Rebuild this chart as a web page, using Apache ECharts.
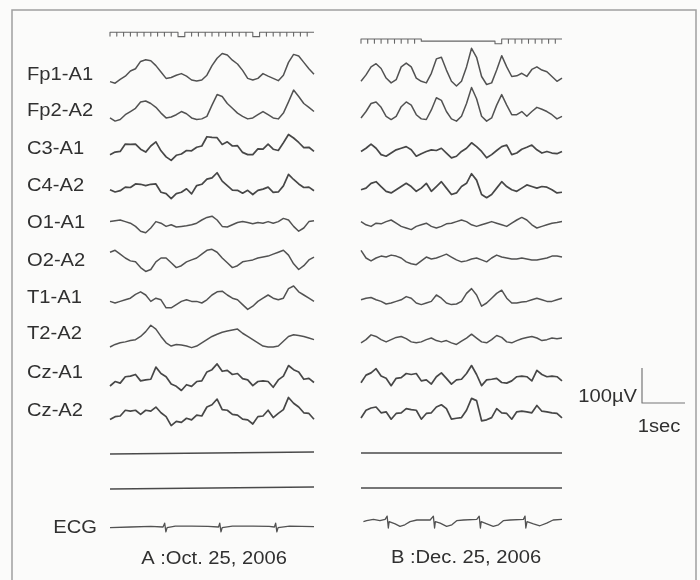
<!DOCTYPE html>
<html><head><meta charset="utf-8">
<script src="https://cdn.jsdelivr.net/npm/echarts/dist/echarts.min.js"></script>
<style>html,body{margin:0;padding:0;background:#fbfbfa;}#c{width:700px;height:580px;}</style>
</head><body><div id="c"></div><script>
// ---------------- DATA ----------------
const channels = ['Fp1-A1','Fp2-A2','C3-A1','C4-A2','O1-A1','O2-A2','T1-A1','T2-A2','Cz-A1','Cz-A2'];
const captionA = 'A :Oct. 25, 2006';
const captionB = 'B :Dec. 25, 2006';
const ecgLabel = 'ECG';
const scaleVoltLabel = '100\u00b5V';
const scaleTimeLabel = '1sec';
const epochSec = 5;          // each panel shows 5 s
const scaleBarSec = 1;
const scaleBarMicroV = 100;

// Panel A (Oct. 25, 2006) – 41 samples over 5 s, µV (up positive)
const fp1A = [-30,-35,-23,-13,3,10,33,38,35,20,0,-20,-17,-10,-5,-13,-25,-28,-25,-10,20,43,58,53,37,25,5,-20,-25,-20,-5,-13,-20,-27,-10,30,55,50,30,10,-7];
const fp2A = [-31,-41,-36,-21,-11,-1,19,22,14,2,-16,-31,-28,-21,-11,-18,-31,-36,-34,-26,9,42,36,14,-1,-16,-26,-34,-31,-21,-11,-21,-31,-34,-16,19,56,36,14,2,-11];
const c3A  = [-27,-19,-17,6,5,6,-10,-19,0,13,-15,-34,-45,-29,-25,-14,-15,-4,0,29,27,26,5,13,0,1,-20,-27,-27,-9,-10,6,-10,-14,10,36,25,11,-5,-4,-17];
const c4A  = [-21,-28,-24,-13,-14,-3,-4,-8,-4,-3,-29,-33,-49,-33,-29,-18,-34,-8,-4,12,16,32,6,-8,-22,-23,-32,-23,-36,-23,-19,-13,-29,-28,-9,27,11,-3,-14,-13,-24];
const o1A  = [-5,-2,0,-5,-10,-20,-35,-40,-25,-5,-10,-20,-15,-22,-20,-18,-15,-10,0,8,12,0,-20,-22,-15,-8,-5,-8,-12,-8,-10,-5,-10,-5,5,0,-20,-35,-25,-5,-2];
const o2A  = [18,24,12,0,-9,-12,-30,-42,-36,-12,0,0,-15,-30,-24,-12,-6,0,12,24,27,18,0,-15,-30,-24,-12,-9,-6,0,3,6,12,18,24,9,-18,-36,-24,-6,3];
const t1A  = [-20,-25,-20,-15,-10,2,10,0,-20,-10,-15,-40,-40,-30,-20,-15,-20,-20,-25,-15,0,10,12,0,-10,-15,-30,-45,-35,-20,-10,0,-10,-15,-10,20,28,10,0,-10,-20];
const t2A  = [-50,-42,-37,-34,-30,-27,-17,-2,18,6,-17,-37,-47,-42,-44,-47,-52,-47,-37,-27,-17,-10,-4,0,3,6,-7,-17,-27,-37,-47,-50,-50,-47,-32,-17,-12,-14,-17,-22,-27];
const cz1A = [-50,-36,-41,-21,-19,-14,-34,-31,-29,9,-11,-21,-44,-51,-64,-46,-51,-36,-34,-6,1,19,-4,-1,-14,-11,-27,-31,-49,-36,-34,-36,-54,-31,-19,14,1,-6,-29,-26,-39];
const cz2A = [-36,-27,-25,-7,-10,-7,-20,-7,-10,3,-15,-27,-55,-42,-45,-32,-37,-22,-25,3,10,28,-5,-7,-20,-22,-35,-37,-50,-27,-25,-7,-30,-17,-5,33,15,3,-15,-17,-35];
const flat1A = [-3,3];
const flat2A = [-3,3];
// ECG A: [seconds, µV]
const ecgA = [[0,-2],[0.5,0],[1.0,2],[1.3,0],[1.34,12],[1.37,-15],[1.40,-2],[1.6,3],[2.0,3],[2.4,2],[2.66,0],[2.69,12],[2.72,-15],[2.75,-2],[3.0,3],[3.5,3],[3.9,2],[4.03,0],[4.06,12],[4.09,-15],[4.12,-2],[4.4,3],[5.0,1]];
// photic marker A: 30 cells of 1/6 s, 1 = pulse (tick), other = level of flat segment
const markerA = [1,1,1,1,1,1,1,1,1,1,-0.15,1,1,1,1,1,1,1,1,1,1,-0.15,1,1,1,1,1,1,1,1];

// Panel B (Dec. 25, 2006)
const fp1B = [-29,-9,16,26,11,-19,-34,-24,16,28,16,-19,-29,-34,-4,41,46,6,-29,-44,-29,16,74,46,-14,-39,-34,6,51,16,-14,-12,-4,-14,8,16,6,1,-14,-29,-19];
const fp2B = [-31,-11,14,19,2,-26,-36,-26,4,19,9,-21,-34,-36,-6,32,24,-11,-34,-41,-26,14,64,29,-26,-41,-31,9,42,9,-21,-21,-11,-26,-11,2,-4,-11,-21,-34,-26];
const c3B  = [-17,-7,6,-7,-27,-32,-22,-12,-7,-2,-12,-32,-24,-17,-12,-14,-7,-22,-37,-32,-17,-7,10,-2,-17,-37,-27,-14,-2,3,-27,-22,-10,-4,3,-12,-22,-17,-22,-24,-17];
const c4B  = [-21,-16,-1,4,-11,-26,-31,-21,-11,-1,-11,-26,-16,-1,-26,-11,4,-16,-36,-31,-11,-1,29,9,-36,-46,-36,-16,4,-11,-21,-26,-16,-6,-11,-16,-11,-13,-21,-31,-29];
const o1B  = [-5,-15,-20,-10,-12,-5,0,-10,-20,-25,-30,-20,-15,-10,-20,-25,-20,-12,-10,-5,0,-5,-15,-20,-15,-10,-5,-10,-15,-20,-10,0,8,0,-15,-25,-20,-15,-10,-8,-5];
const o2B  = [24,0,-9,0,6,3,9,6,0,-12,-18,-21,-9,3,-3,0,6,12,3,-6,-12,-9,-3,0,-6,-12,0,9,3,0,-3,-3,0,-3,-6,-6,-3,0,6,6,3];
const t1B  = [-15,-10,-8,-15,-20,-28,-25,-20,-15,-5,-10,-25,-30,-25,-20,0,-10,-25,-30,-28,-20,5,20,0,-35,-25,-10,5,15,-10,-25,-25,-22,-20,-15,-10,-15,-20,-20,-15,-10];
const t2B  = [-37,-27,-12,-17,-27,-34,-27,-20,-17,-24,-34,-37,-34,-27,-22,-30,-34,-30,-37,-42,-32,-22,-10,-22,-34,-37,-27,-14,-20,-34,-37,-30,-24,-20,-17,-22,-30,-27,-22,-24,-22];
const cz1B = [-40,-16,-9,4,-19,-26,-49,-26,-24,-11,-14,-11,-34,-31,-44,-21,-9,-26,-44,-31,-29,-11,14,-14,-49,-31,-29,-26,-39,-41,-34,-21,-19,-21,-34,-1,-14,-21,-19,-21,-34];
const cz2B = [-31,-7,0,3,-15,-12,-35,-17,-15,-2,-5,-7,-35,-17,-15,3,10,-2,-35,-32,-30,-7,30,23,-40,-37,-30,-2,-15,-17,-35,-12,-10,-12,-15,8,-10,-12,-15,-17,-31];
const flat1B = [0,0];
const flat2B = [0,0];
const ecgB = [[0.06,-5],[0.14,-2],[0.31,2],[0.47,-2],[0.60,2],[0.65,12],[0.68,-25],[0.70,-5],[0.85,-12],[0.97,-20],[1.09,-15],[1.22,-5],[1.39,0],[1.72,0],[1.80,12],[1.83,-25],[1.85,-5],[1.97,-10],[2.13,-20],[2.26,-15],[2.38,-2],[2.55,0],[2.88,2],[2.94,12],[2.97,-25],[2.99,-5],[3.13,-12],[3.29,-20],[3.42,-15],[3.54,-2],[3.71,0],[4.04,2],[4.08,12],[4.10,-25],[4.13,-5],[4.29,-12],[4.45,-18],[4.62,-10],[4.78,0],[5.0,2]];
const markerB = [1,1,1,1,1,1,1,1,1,0.5,0.5,0.5,0.5,0.5,0.5,0.5,0.5,0.5,0.5,0.5,-0.1,1,1,1,1,1,1,1,1,1];

// ---------------- LAYOUT / STYLE ----------------
const panelA = {left:110, width:204};
const panelB = {left:361, width:201};
const rowCenters = [72,108,146,183,220,258,295,331,370,408];
const flatRows = [453,488];
const ecgRowA = 527, ecgRowB = 520;
const rowHalf = 20;                 // px
const uvPerPx = 3.125;              // 100 µV ≈ 32 px
const traceColor = '#525252';
const fontFam = '"Liberation Sans", Arial, sans-serif';
const textStretch = 1.12;

const grids = [], xAxes = [], yAxes = [], series = [];
function toPairs(arr){ const n = arr.length; return arr.map((v,k)=>[k*epochSec/(n-1), v]); }
function addGrid(left, width, top, height, xmin, xmax, ymin, ymax){
  const i = grids.length;
  grids.push({left:left, top:top, width:width, height:height, containLabel:false, show:false});
  xAxes.push({type:'value', gridIndex:i, min:xmin, max:xmax, show:false});
  yAxes.push({type:'value', gridIndex:i, min:ymin, max:ymax, show:false});
  return i;
}
function addLine(idx, data, color, width){
  series.push({type:'line', xAxisIndex:idx, yAxisIndex:idx, data:data, symbol:'none', showSymbol:false,
    clip:false, silent:true, animation:false, smooth:false,
    lineStyle:{color:color, width:width, join:'round'}});
}
function addTrace(panel, centerY, data, color, width){
  const lim = rowHalf*uvPerPx;
  const g = addGrid(panel.left, panel.width, centerY-rowHalf, rowHalf*2, 0, epochSec, -lim, lim);
  addLine(g, data, color, width);
}
function markerPoints(cells){
  const d = epochSec/cells.length, pts = [];
  cells.forEach((lv,i)=>{
    const t0 = i*d, t1 = (i+1)*d;
    if (lv === 1){ pts.push([t0,1],[t0,0],[t0,1],[t1,1]); }
    else { pts.push([t0,lv],[t1,lv]); }
  });
  return pts;
}

const panelData = [
  {p:panelA, eeg:[fp1A,fp2A,c3A,c4A,o1A,o2A,t1A,t2A,cz1A,cz2A], flats:[flat1A,flat2A], ecg:ecgA, ecgY:ecgRowA, marker:markerA, markerTop:32.3, markerH:3.8},
  {p:panelB, eeg:[fp1B,fp2B,c3B,c4B,o1B,o2B,t1B,t2B,cz1B,cz2B], flats:[flat1B,flat2B], ecg:ecgB, ecgY:ecgRowB, marker:markerB, markerTop:39, markerH:4.3}
];
panelData.forEach(pd=>{
  pd.eeg.forEach((arr,i)=>{
    const noisy = i>=8 || i===2 || i===3;
    addTrace(pd.p, rowCenters[i], toPairs(arr), noisy ? '#474747' : traceColor, noisy ? 1.7 : 1.5);
  });
  pd.flats.forEach((arr,i)=> addTrace(pd.p, flatRows[i], toPairs(arr), '#4a4a4a', 1.5));
  addTrace(pd.p, pd.ecgY, pd.ecg, traceColor, 1.3);
  const mg = addGrid(pd.p.left, pd.p.width, pd.markerTop, pd.markerH, 0, epochSec, 0, 1);
  addLine(mg, markerPoints(pd.marker), '#666', 1.1);
});
// scale bar
const sg = addGrid(642, 43, 368, 35, 0, scaleBarSec, 0, scaleBarMicroV);
addLine(sg, [[0,scaleBarMicroV],[0,0],[scaleBarSec,0]], '#777', 1.2);

const txt = (text, x, y, align, size) => ({type:'text', x:x, y:y, scaleX:textStretch, silent:true,
  style:{text:text, x:0, y:0, fill:'#303030', font:(size||18)+'px '+fontFam, textAlign:align||'left', textVerticalAlign:'middle'}});
const graphics = [
  {type:'rect', shape:{x:12, y:10, width:684, height:620}, style:{fill:'none', stroke:'#a0a0a0', lineWidth:1.5}, silent:true, z:-1}
];
channels.forEach((c,i)=> graphics.push(txt(c, 27, rowCenters[i]+3, 'left')));
graphics.push(txt(ecgLabel, 97, 528, 'right'));
graphics.push(txt(captionA, 214, 559, 'center'));
graphics.push(txt(captionB, 466, 558, 'center'));
graphics.push(txt(scaleVoltLabel, 637, 397, 'right'));
graphics.push(txt(scaleTimeLabel, 659, 427, 'center'));

const chart = echarts.init(document.getElementById('c'), null, {renderer:'canvas'});
chart.setOption({
  backgroundColor:'#fbfbfa',
  animation:false,
  grid:grids, xAxis:xAxes, yAxis:yAxes, series:series,
  graphic:graphics
});
</script></body></html>
